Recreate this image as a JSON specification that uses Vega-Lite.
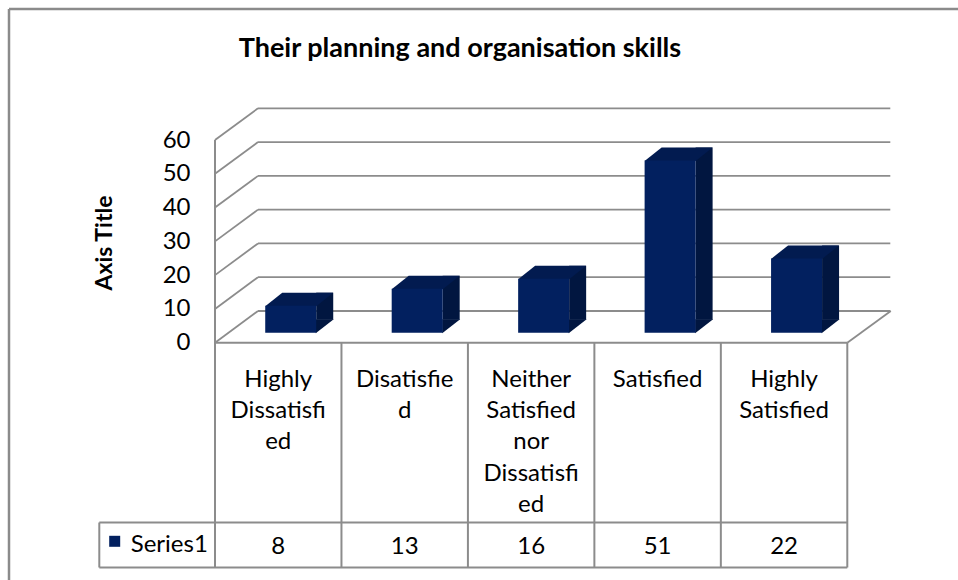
{
  "$schema": "https://vega.github.io/schema/vega-lite/v6.json",
  "width": 949,
  "height": 571,
  "autosize": "none",
  "padding": {"left": 9, "top": 9, "right": 0, "bottom": 0},
  "background": "white",
  "config": {
    "view": {"stroke": null},
    "font": "Lato"
  },
  "title": {
    "text": "Their planning and organisation skills",
    "font": "Lato", "fontSize": 27, "fontWeight": "bold", "color": "#000000",
    "anchor": "start", "orient": "top", "offset": 0, "baseline": "middle", "dy": 68, "dx": 231
  },
  "datasets": {
    "answers": [
      {"category": "Highly Dissatisfied", "label": "Highly\nDissatisfi\ned", "value": 8},
      {"category": "Disatisfied", "label": "Disatisfie\nd", "value": 13},
      {"category": "Neither Satisfied nor Dissatisfied", "label": "Neither\nSatisfied\nnor\nDissatisfi\ned", "value": 16},
      {"category": "Satisfied", "label": "Satisfied", "value": 51},
      {"category": "Highly Satisfied", "label": "Highly\nSatisfied", "value": 22}
    ],
    "ticks": [{"tick": 0}, {"tick": 10}, {"tick": 20}, {"tick": 30}, {"tick": 40}, {"tick": 50}, {"tick": 60}],
    "series": [{"series": "Series1"}]
  },
  "layer": [
    {
      "data": {"name": "ticks"},
      "mark": {"type": "rule", "color": "#8c8c8c", "strokeWidth": 1.8, "xOffset": 43, "x2Offset": 43, "yOffset": -31.7},
      "encoding": {
        "x": {"datum": "Highly Dissatisfied", "type": "nominal", "bandPosition": 0, "axis": null,
          "scale": {"type": "band", "domain": ["Highly Dissatisfied", "Disatisfied", "Neither Satisfied nor Dissatisfied", "Satisfied", "Highly Satisfied"], "range": [206, 838.3], "paddingInner": 0, "paddingOuter": 0}},
        "x2": {"datum": "Highly Satisfied", "bandPosition": 1},
        "y": {"field": "tick", "type": "quantitative",
          "scale": {"domain": [0, 60], "range": [333.7, 131], "nice": false, "zero": true},
          "axis": {"values": [0, 10, 20, 30, 40, 50, 60], "offset": -206, "domain": false, "ticks": false, "tickSize": 0, "grid": false,
            "labelPadding": 25, "labelFont": "Lato", "labelFontSize": 24, "labelColor": "#000000",
            "title": "Axis Title", "titleFont": "Lato", "titleFontSize": 23, "titleFontWeight": "bold", "titleColor": "#000000",
            "titleAngle": -90, "titleAlign": "center", "titleBaseline": "middle", "titleX": -111, "titleY": 233.5}}
      }
    },
    {
      "data": {"name": "ticks"},
      "mark": {"type": "rule", "color": "#8c8c8c", "strokeWidth": 1.8, "x2Offset": 43, "y2Offset": -31.7},
      "encoding": {
        "x": {"datum": "Highly Dissatisfied", "type": "nominal", "bandPosition": 0, "axis": null},
        "x2": {"datum": "Highly Dissatisfied", "bandPosition": 0},
        "y": {"field": "tick", "type": "quantitative"},
        "y2": {"field": "tick"}
      }
    },
    {
      "data": {"name": "series"},
      "mark": {"type": "rule", "color": "#8b8b8b", "strokeWidth": 2.5, "yOffset": -131, "x2Offset": 110.7, "xOffset": -206},
      "encoding": {
        "x": {"datum": "Highly Dissatisfied", "type": "nominal", "bandPosition": 0, "axis": null},
        "x2": {"datum": "Highly Satisfied", "bandPosition": 1},
        "y": {"datum": 60, "type": "quantitative"}
      }
    },
    {
      "data": {"name": "series"},
      "mark": {"type": "rule", "color": "#8b8b8b", "strokeWidth": 2.5, "xOffset": -206, "yOffset": -131, "y2Offset": 237.3},
      "encoding": {
        "x": {"datum": "Highly Dissatisfied", "type": "nominal", "bandPosition": 0, "axis": null},
        "y": {"datum": 60, "type": "quantitative"},
        "y2": {"datum": 0}
      }
    },
    {
      "data": {"name": "series"},
      "mark": {"type": "rule", "color": "#8c8c8c", "strokeWidth": 1.8, "x2Offset": 43.5, "y2Offset": -31.7},
      "encoding": {
        "x": {"datum": "Highly Satisfied", "type": "nominal", "bandPosition": 1, "axis": null},
        "x2": {"datum": "Highly Satisfied", "bandPosition": 1},
        "y": {"datum": 0, "type": "quantitative"},
        "y2": {"datum": 0}
      }
    },
    {
      "data": {"name": "series"},
      "mark": {"type": "rule", "color": "#8c8c8c", "strokeWidth": 2, "y2Offset": 224.8},
      "encoding": {
        "x": {"datum": "Highly Dissatisfied", "type": "nominal", "bandPosition": 0, "axis": null},
        "y": {"datum": 60, "type": "quantitative"},
        "y2": {"datum": 0}
      }
    },
    {
      "data": {"name": "answers"},
      "mark": {"type": "rule", "color": "#8c8c8c", "strokeWidth": 2, "y2Offset": 224.8},
      "encoding": {
        "x": {"field": "category", "type": "nominal", "bandPosition": 0, "axis": null},
        "y": {"datum": 0, "type": "quantitative"},
        "y2": {"datum": 0}
      }
    },
    {
      "data": {"name": "series"},
      "mark": {"type": "rule", "color": "#8c8c8c", "strokeWidth": 2, "y2Offset": 224.8},
      "encoding": {
        "x": {"datum": "Highly Satisfied", "type": "nominal", "bandPosition": 1, "axis": null},
        "y": {"datum": 0, "type": "quantitative"},
        "y2": {"datum": 0}
      }
    },
    {
      "data": {"name": "series"},
      "mark": {"type": "rule", "color": "#8c8c8c", "strokeWidth": 2, "xOffset": -115.7, "yOffset": 179.8, "y2Offset": 224.8},
      "encoding": {
        "x": {"datum": "Highly Dissatisfied", "type": "nominal", "bandPosition": 0, "axis": null},
        "y": {"datum": 0, "type": "quantitative"},
        "y2": {"datum": 0}
      }
    },
    {
      "data": {"name": "series"},
      "mark": {"type": "rule", "color": "#8c8c8c", "strokeWidth": 2},
      "encoding": {
        "x": {"datum": "Highly Dissatisfied", "type": "nominal", "bandPosition": 0, "axis": null},
        "x2": {"datum": "Highly Satisfied", "bandPosition": 1},
        "y": {"datum": 0, "type": "quantitative"}
      }
    },
    {
      "data": {"name": "series"},
      "mark": {"type": "rule", "color": "#8c8c8c", "strokeWidth": 2, "xOffset": -115.7, "yOffset": 179.8},
      "encoding": {
        "x": {"datum": "Highly Dissatisfied", "type": "nominal", "bandPosition": 0, "axis": null},
        "x2": {"datum": "Highly Satisfied", "bandPosition": 1},
        "y": {"datum": 0, "type": "quantitative"}
      }
    },
    {
      "data": {"name": "series"},
      "mark": {"type": "rule", "color": "#8c8c8c", "strokeWidth": 2, "xOffset": -115.7, "yOffset": 224.8},
      "encoding": {
        "x": {"datum": "Highly Dissatisfied", "type": "nominal", "bandPosition": 0, "axis": null},
        "x2": {"datum": "Highly Satisfied", "bandPosition": 1},
        "y": {"datum": 0, "type": "quantitative"}
      }
    },
    {
      "data": {"name": "answers"},
      "mark": {"type": "bar", "color": "#011640", "width": 17, "xOffset": 46.5, "yOffset": -23, "y2Offset": -23},
      "encoding": {
        "x": {"field": "category", "type": "nominal", "axis": null},
        "y": {"field": "value", "type": "quantitative"},
        "y2": {"datum": 0}
      }
    },
    {
      "data": {"name": "answers"},
      "mark": {"type": "point", "shape": "M25,-13.5L43,-13.5L25,0.5Z", "size": 4, "filled": true, "opacity": 1, "strokeWidth": 0, "color": "#011640", "xOffset": 12.5, "yOffset": -10},
      "encoding": {
        "x": {"field": "category", "type": "nominal", "axis": null},
        "y": {"datum": 0, "type": "quantitative"}
      }
    },
    {
      "data": {"name": "answers"},
      "mark": {"type": "point", "shape": "M-25.5,0.5L25.5,0.5L42.5,-13L-8.5,-13Z", "size": 4, "filled": true, "opacity": 1, "strokeWidth": 0, "color": "#021b50", "xOffset": 12.5, "yOffset": -10},
      "encoding": {
        "x": {"field": "category", "type": "nominal", "axis": null},
        "y": {"field": "value", "type": "quantitative"}
      }
    },
    {
      "data": {"name": "answers"},
      "mark": {"type": "bar", "color": "#02205f", "width": 51, "xOffset": 12.5, "yOffset": -10, "y2Offset": -10},
      "encoding": {
        "x": {"field": "category", "type": "nominal", "axis": null},
        "y": {"field": "value", "type": "quantitative"},
        "y2": {"datum": 0}
      }
    },
    {
      "data": {"name": "answers"},
      "mark": {"type": "text", "font": "Lato", "fontSize": 24, "color": "#000000", "align": "center", "baseline": "alphabetic", "lineBreak": "\n", "lineHeight": 31.3, "yOffset": 44},
      "encoding": {
        "x": {"field": "category", "type": "nominal", "axis": null},
        "y": {"datum": 0, "type": "quantitative"},
        "text": {"field": "label"}
      }
    },
    {
      "data": {"name": "answers"},
      "mark": {"type": "text", "font": "Lato", "fontSize": 24, "color": "#000000", "align": "center", "baseline": "alphabetic", "yOffset": 210.8},
      "encoding": {
        "x": {"field": "category", "type": "nominal", "axis": null},
        "y": {"datum": 0, "type": "quantitative"},
        "text": {"field": "value", "type": "quantitative"}
      }
    },
    {
      "data": {"name": "series"},
      "mark": {"type": "point", "shape": "square", "size": 121, "filled": true, "opacity": 1, "strokeWidth": 0, "color": "#02205f", "xOffset": -100.3, "yOffset": 198.6},
      "encoding": {
        "x": {"datum": "Highly Dissatisfied", "type": "nominal", "bandPosition": 0, "axis": null},
        "y": {"datum": 0, "type": "quantitative"}
      }
    },
    {
      "data": {"name": "series"},
      "mark": {"type": "text", "font": "Lato", "fontSize": 24, "color": "#000000", "align": "left", "baseline": "alphabetic", "xOffset": -84.3, "yOffset": 208.8},
      "encoding": {
        "x": {"datum": "Highly Dissatisfied", "type": "nominal", "bandPosition": 0, "axis": null},
        "y": {"datum": 0, "type": "quantitative"},
        "text": {"field": "series"}
      }
    }
  ]
}
